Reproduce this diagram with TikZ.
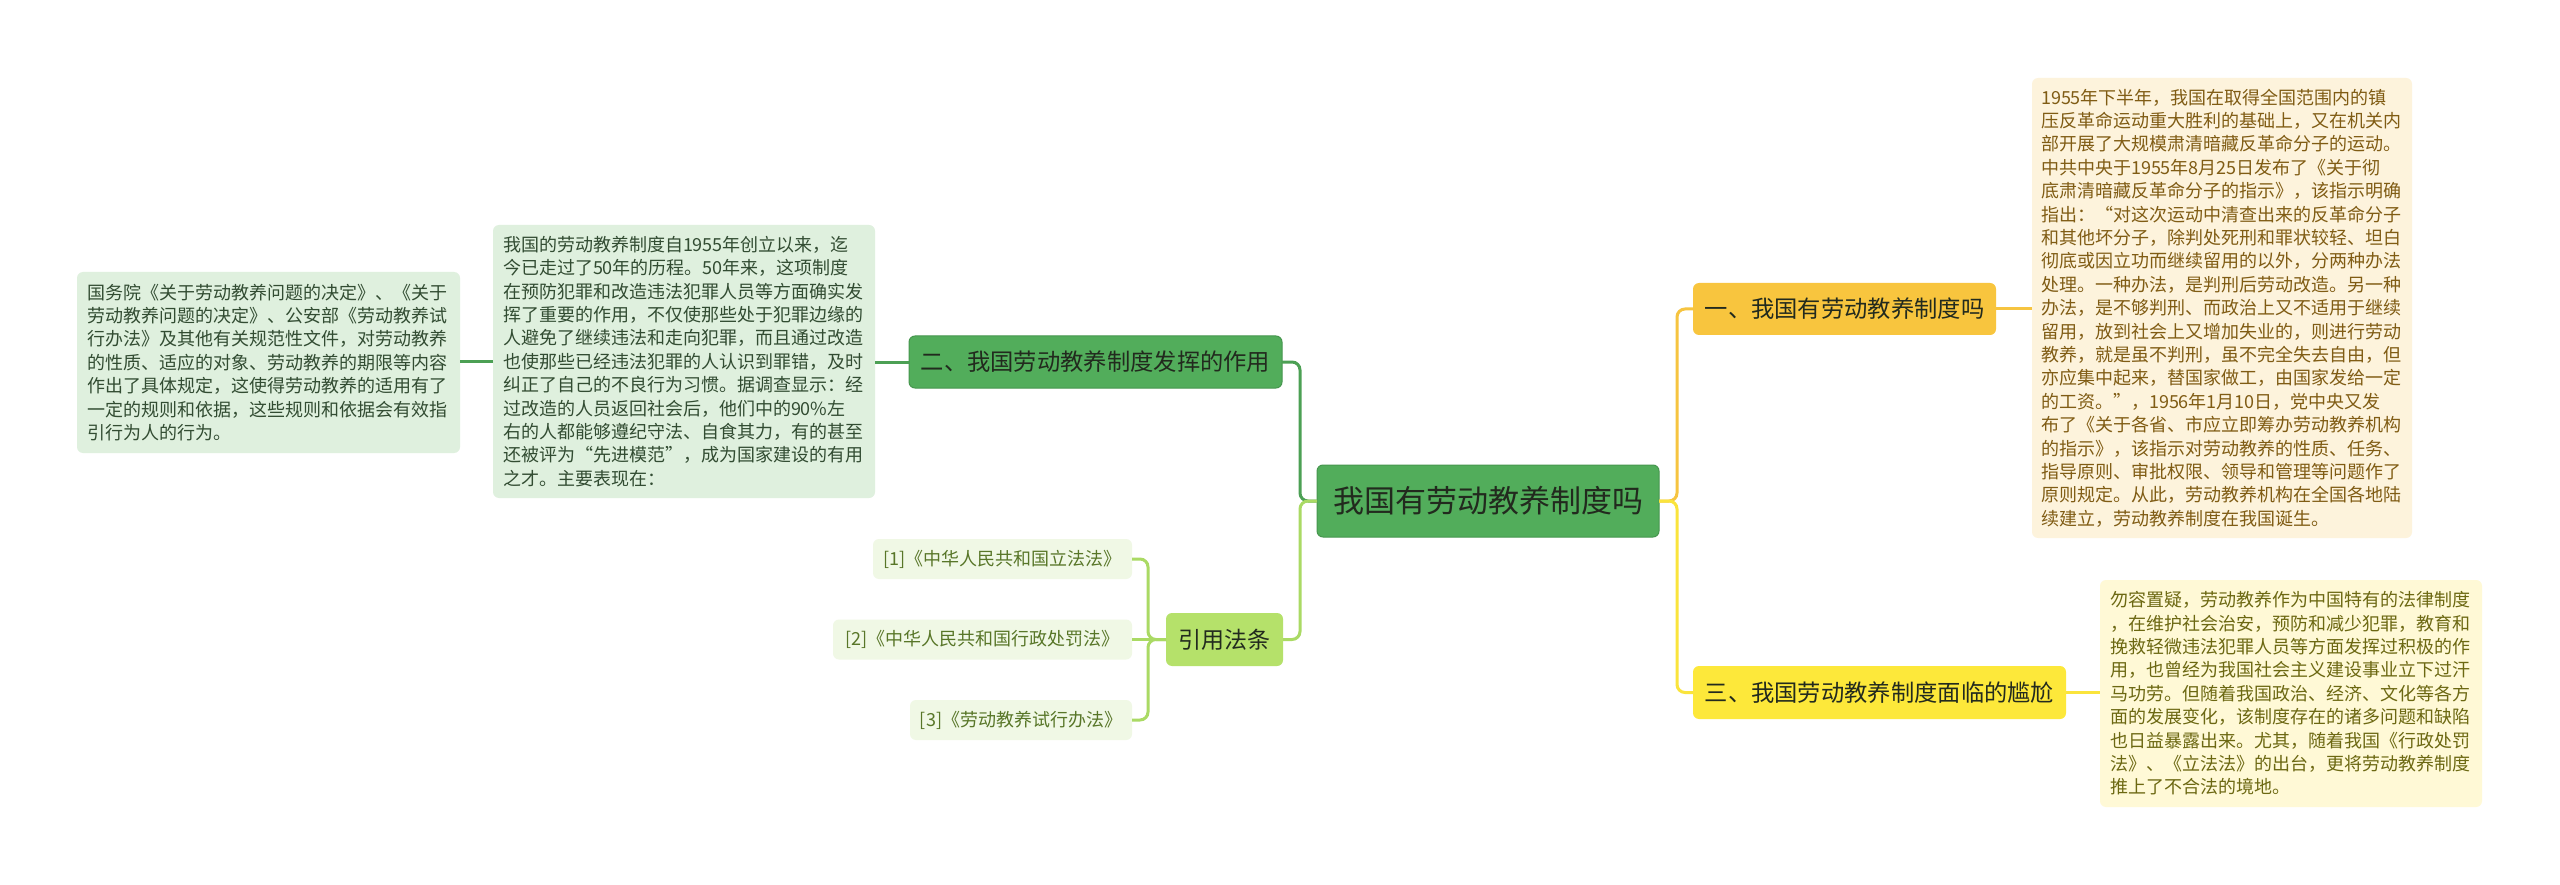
\documentclass[tikz,border=0pt]{standalone}
\usepackage{fontspec}
\setmainfont{Noto Sans CJK SC}
\usetikzlibrary{calc}
\definecolor{gMain}{RGB}{82,173,91}
\definecolor{gBorder}{RGB}{70,150,78}
\definecolor{gLight}{RGB}{223,240,222}
\definecolor{gText}{RGB}{50,76,50}
\definecolor{lime}{RGB}{181,225,106}
\definecolor{limeBorder}{RGB}{165,210,95}
\definecolor{limeLight}{RGB}{240,248,229}
\definecolor{limeText}{RGB}{88,118,40}
\definecolor{orangeN}{RGB}{248,197,62}
\definecolor{orangeLight}{RGB}{253,243,220}
\definecolor{orangeText}{RGB}{128,92,20}
\definecolor{yellowN}{RGB}{253,232,58}
\definecolor{yellowLight}{RGB}{255,249,214}
\definecolor{yellowText}{RGB}{108,104,18}
\definecolor{darkT}{RGB}{34,42,30}
\definecolor{cG}{RGB}{76,160,84}
\definecolor{cL}{RGB}{170,218,100}
\definecolor{cO}{RGB}{246,196,64}
\definecolor{cY}{RGB}{250,228,60}
\begin{document}
\begin{tikzpicture}[x=1pt,y=-1pt,
  every node/.style={inner sep=0pt, outer sep=0pt},
  titlebox/.style={rounded corners=6pt, align=center, text=darkT},
  branchfont/.style={font=\fontsize{23.3}{27}\selectfont},
  textbox/.style={rounded corners=6pt, align=left, font=\fontsize{18}{23.4}\selectfont, text width=362pt},
  itembox/.style={rounded corners=6pt, fill=limeLight, text=limeText, align=center, minimum height=40pt, font=\fontsize{18}{22}\selectfont},
  conn/.style={line width=3pt, rounded corners=8pt}
]
\useasboundingbox (0,0) rectangle (2560,885);
\fill[white] (0,0) rectangle (2560,885);

% central node
\node[titlebox, fill=gMain, draw=gBorder, line width=1pt, minimum width=342pt, minimum height=72pt, font=\fontsize{31}{36}\selectfont] (C) at (1488,501) {我国有劳动教养制度吗};

% left branch
\node[titlebox, branchfont, fill=gMain, draw=gBorder, line width=1pt, minimum width=373pt, minimum height=52pt] (N2) at (1095.5,362) {二、我国劳动教养制度发挥的作用};

\node[textbox, fill=gLight, text=gText, minimum width=382pt, minimum height=273pt] (M) at (684,361.5) {我国的劳动教养制度自1955年创立以来，迄\\
今已走过了50年的历程。50年来，这项制度\\
在预防犯罪和改造违法犯罪人员等方面确实发\\
挥了重要的作用，不仅使那些处于犯罪边缘的\\
人避免了继续违法和走向犯罪，而且通过改造\\
也使那些已经违法犯罪的人认识到罪错，及时\\
纠正了自己的不良行为习惯。据调查显示：经\\
过改造的人员返回社会后，他们中的90\%左\\
右的人都能够遵纪守法、自食其力，有的甚至\\
还被评为“先进模范”，成为国家建设的有用\\
之才。主要表现在：};

\node[textbox, fill=gLight, text=gText, minimum width=383pt, minimum height=181pt] (L) at (268.5,362.5) {国务院《关于劳动教养问题的决定》、《关于\\
劳动教养问题的决定》、公安部《劳动教养试\\
行办法》及其他有关规范性文件，对劳动教养\\
的性质、适应的对象、劳动教养的期限等内容\\
作出了具体规定，这使得劳动教养的适用有了\\
一定的规则和依据，这些规则和依据会有效指\\
引行为人的行为。};

% citation branch
\node[titlebox, fill=lime, minimum width=117pt, minimum height=53pt, font=\fontsize{23}{27}\selectfont] (Q) at (1224.5,639.5) {引用法条};
\node[itembox, minimum width=259pt] (Q1) at (1002.5,559) {[1]《中华人民共和国立法法》};
\node[itembox, minimum width=299pt] (Q2) at (982.5,639.5) {[2]《中华人民共和国行政处罚法》};
\node[itembox, minimum width=222pt] (Q3) at (1021,720) {[3]《劳动教养试行办法》};

% right branch
\node[titlebox, branchfont, fill=orangeN, minimum width=303pt, minimum height=52pt] (N1) at (1844.5,309) {一、我国有劳动教养制度吗};
\node[titlebox, branchfont, fill=yellowN, minimum width=373pt, minimum height=53pt] (N3) at (1879.5,692.5) {三、我国劳动教养制度面临的尴尬};

\node[textbox, fill=orangeLight, text=orangeText, minimum width=380pt, minimum height=460pt] (R1) at (2222,308) {1955年下半年，我国在取得全国范围内的镇\\
压反革命运动重大胜利的基础上，又在机关内\\
部开展了大规模肃清暗藏反革命分子的运动。\\
中共中央于1955年8月25日发布了《关于彻\\
底肃清暗藏反革命分子的指示》，该指示明确\\
指出：“对这次运动中清查出来的反革命分子\\
和其他坏分子，除判处死刑和罪状较轻、坦白\\
彻底或因立功而继续留用的以外，分两种办法\\
处理。一种办法，是判刑后劳动改造。另一种\\
办法，是不够判刑、而政治上又不适用于继续\\
留用，放到社会上又增加失业的，则进行劳动\\
教养，就是虽不判刑，虽不完全失去自由，但\\
亦应集中起来，替国家做工，由国家发给一定\\
的工资。”，1956年1月10日，党中央又发\\
布了《关于各省、市应立即筹办劳动教养机构\\
的指示》，该指示对劳动教养的性质、任务、\\
指导原则、审批权限、领导和管理等问题作了\\
原则规定。从此，劳动教养机构在全国各地陆\\
续建立，劳动教养制度在我国诞生。};

\node[textbox, fill=yellowLight, text=yellowText, minimum width=382pt, minimum height=227pt] (R2) at (2291,693.5) {勿容置疑，劳动教养作为中国特有的法律制度\\
，在维护社会治安，预防和减少犯罪，教育和\\
挽救轻微违法犯罪人员等方面发挥过积极的作\\
用，也曾经为我国社会主义建设事业立下过汗\\
马功劳。但随着我国政治、经济、文化等各方\\
面的发展变化，该制度存在的诸多问题和缺陷\\
也日益暴露出来。尤其，随着我国《行政处罚\\
法》、《立法法》的出台，更将劳动教养制度\\
推上了不合法的境地。};

% connectors
\draw[conn, cG] (C.west) -- ++(-17,0) |- (N2.east);
\draw[conn, cL] (C.west) -- ++(-17,0) |- (Q.east);
\draw[conn, cO] (C.east) -- ++(18,0) |- (N1.west);
\draw[conn, cY] (C.east) -- ++(18,0) |- (N3.west);
\draw[conn, cG] (N2.west) -- (N2.west -| M.east);
\draw[conn, cG] (M.west) -- (M.west -| L.east);
\draw[conn, cL] (Q.west) -- ++(-18,0) |- (Q1.east);
\draw[conn, cL] (Q.west) -- (Q2.east);
\draw[conn, cL] (Q.west) -- ++(-18,0) |- (Q3.east);
\draw[conn, cO] (N1.east) -- (N1.east -| R1.west);
\draw[conn, cY] (N3.east) -- (N3.east -| R2.west);
\end{tikzpicture}
\end{document}
